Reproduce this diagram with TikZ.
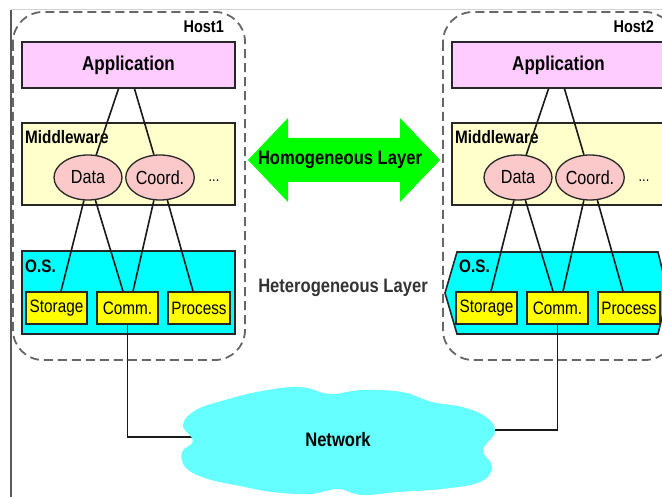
\documentclass[tikz,border=0pt]{standalone}
\usepackage{fontspec}
\setmainfont[FakeStretch=0.85]{Liberation Sans}
\usetikzlibrary{shapes.geometric,calc}

\definecolor{apppink}{HTML}{FFCCFF}
\definecolor{mwyellow}{HTML}{FFFFCC}
\definecolor{svcpink}{HTML}{FBC9C9}
\definecolor{oscyan}{HTML}{00FFFF}
\definecolor{itemyellow}{HTML}{FFFF00}
\definecolor{netcyan}{HTML}{66FFFF}
\definecolor{arrowgreen}{HTML}{00FF00}
\definecolor{framegray}{HTML}{666666}

\begin{document}
\begin{tikzpicture}[x=1pt,y=-1pt,
  hostframe/.style={draw=framegray, line width=1.8pt, dash pattern=on 9pt off 5pt, rounded corners=30pt},
  layerbox/.style={draw=black!85, line width=1.6pt, minimum width=213pt, inner sep=0pt},
  layertitle/.style={font=\bfseries\fontsize{18}{18}\selectfont, inner sep=0pt, anchor=base west},
  hosttitle/.style={font=\bfseries\fontsize{17}{17}\selectfont, inner sep=0pt, anchor=base east},
  svc/.style={ellipse, draw=black!85, fill=svcpink, line width=1.3pt, minimum width=68pt, minimum height=45pt, inner sep=0pt, font=\fontsize{19}{19}\selectfont},
  ositem/.style={draw=black!85, fill=itemyellow, line width=1.6pt, minimum height=32pt, inner sep=0pt, font=\fontsize{18}{18}\selectfont},
  wire/.style={draw=black!90, line width=1.6pt},
  bigtext/.style={font=\bfseries\fontsize{19.5}{20}\selectfont, inner sep=0pt}
]
\useasboundingbox (0,0) rectangle (662,497);
\clip (0,0) rectangle (662,497);

% page edges
\draw[gray!35, line width=1pt] (11,10) -- (662,10);
\draw[gray!70!black, line width=1.5pt] (11,10) -- (11,497);

% host outlines
\draw[hostframe] (13,12) rectangle (245,360);
\draw[hostframe] (443,12) rectangle (675,360);
\node[hosttitle] (h1) at (224,33) {Host1};
\node[hosttitle] (h2) at (654,33) {Host2};

% ---------- Host 1 ----------
\node[layerbox, fill=apppink, minimum height=46pt, font=\bfseries\fontsize{20}{20}\selectfont] (app1) at (128.5,65) {Application};
\node[layerbox, fill=mwyellow, minimum height=82pt] (mw1) at (128.5,164) {};
\node[layertitle] (mwt1) at (25,144) {Middleware};
\node[layerbox, fill=oscyan, minimum height=83pt] (os1) at (128.5,292.5) {};
\node[layertitle] (ost1) at (25,273) {O.S.};

\node[svc] (data1) at (88,177.5) {Data};
\node[svc, minimum width=66pt] (coord1) at (160,177.5) {Coord.};
\node[font=\fontsize{15}{15}\selectfont, inner sep=0pt] (more1) at (214,181) {...};

\node[ositem, minimum width=61pt] (sto1) at (56.5,308) {Storage};
\node[ositem, minimum width=61pt] (comm1) at (127.5,308) {Comm.};
\node[ositem, minimum width=62pt] (proc1) at (199,308) {Process};

\draw[wire] ([xshift=-10pt]app1.south) -- (data1.70);
\draw[wire] ([xshift=6pt]app1.south) -- (coord1.105);
\draw[wire] (data1.-100) -- ([xshift=4.5pt]sto1.north);
\draw[wire] (data1.-72) -- ([xshift=-4.5pt]comm1.north);
\draw[wire] (coord1.-105) -- ([xshift=5.5pt]comm1.north);
\draw[wire] (coord1.-72) -- ([xshift=-6pt]proc1.north);

% ---------- Host 2 ----------
\node[layerbox, fill=apppink, minimum height=46pt, font=\bfseries\fontsize{20}{20}\selectfont] (app2) at (558.5,65) {Application};
\node[layerbox, fill=mwyellow, minimum height=82pt] (mw2) at (558.5,164) {};
\node[layertitle] (mwt2) at (455,144) {Middleware};
\draw[line width=1.6pt, draw=black!85, fill=oscyan]
  (457,252) -- (658,252) -- (668,293) -- (658,334) -- (457,334) -- (445,293) -- cycle;
\node[layertitle] (ost2) at (459,273) {O.S.};

\node[svc] (data2) at (518,177.5) {Data};
\node[svc, minimum width=66pt] (coord2) at (590,177.5) {Coord.};
\node[font=\fontsize{15}{15}\selectfont, inner sep=0pt] (more2) at (644,181) {...};

\node[ositem, minimum width=61pt] (sto2) at (486.5,308) {Storage};
\node[ositem, minimum width=61pt] (comm2) at (557.5,308) {Comm.};
\node[ositem, minimum width=62pt] (proc2) at (629,308) {Process};

\draw[wire] ([xshift=-10pt]app2.south) -- (data2.70);
\draw[wire] ([xshift=6pt]app2.south) -- (coord2.105);
\draw[wire] (data2.-100) -- ([xshift=4.5pt]sto2.north);
\draw[wire] (data2.-72) -- ([xshift=-4.5pt]comm2.north);
\draw[wire] (coord2.-105) -- ([xshift=5.5pt]comm2.north);
\draw[wire] (coord2.-72) -- ([xshift=-6pt]proc2.north);

% ---------- middle ----------
\fill[arrowgreen] (248,160) -- (288,118) -- (288,138) -- (400,138) -- (400,118)
  -- (440,160) -- (400,202) -- (400,182) -- (288,182) -- (288,202) -- cycle;
\node[bigtext] (homo) at (340,160) {Homogeneous Layer};
\node[bigtext, text=black!80] (hetero) at (343,288) {Heterogeneous Layer};

% ---------- network ----------
\coordinate (netL) at (200,437);
\coordinate (netR) at (485,430);
\draw[wire] (comm1.south) |- (netL);
\draw[wire] (comm2.south) |- (netR);
\fill[netcyan] plot[smooth cycle, tension=0.65] coordinates {
  (183,425) (196,410) (225,400) (262,391) (300,387) (330,394)
  (362,390) (402,392) (432,402) (462,407) (486,417) (495,432)
  (483,450) (492,467) (480,482) (442,489) (398,492) (362,495)
  (338,489) (310,494) (272,492) (240,486) (208,479) (186,468)
  (182,452) (193,441)};
\node[bigtext] (net) at (338,440) {Network};
\end{tikzpicture}
\end{document}
